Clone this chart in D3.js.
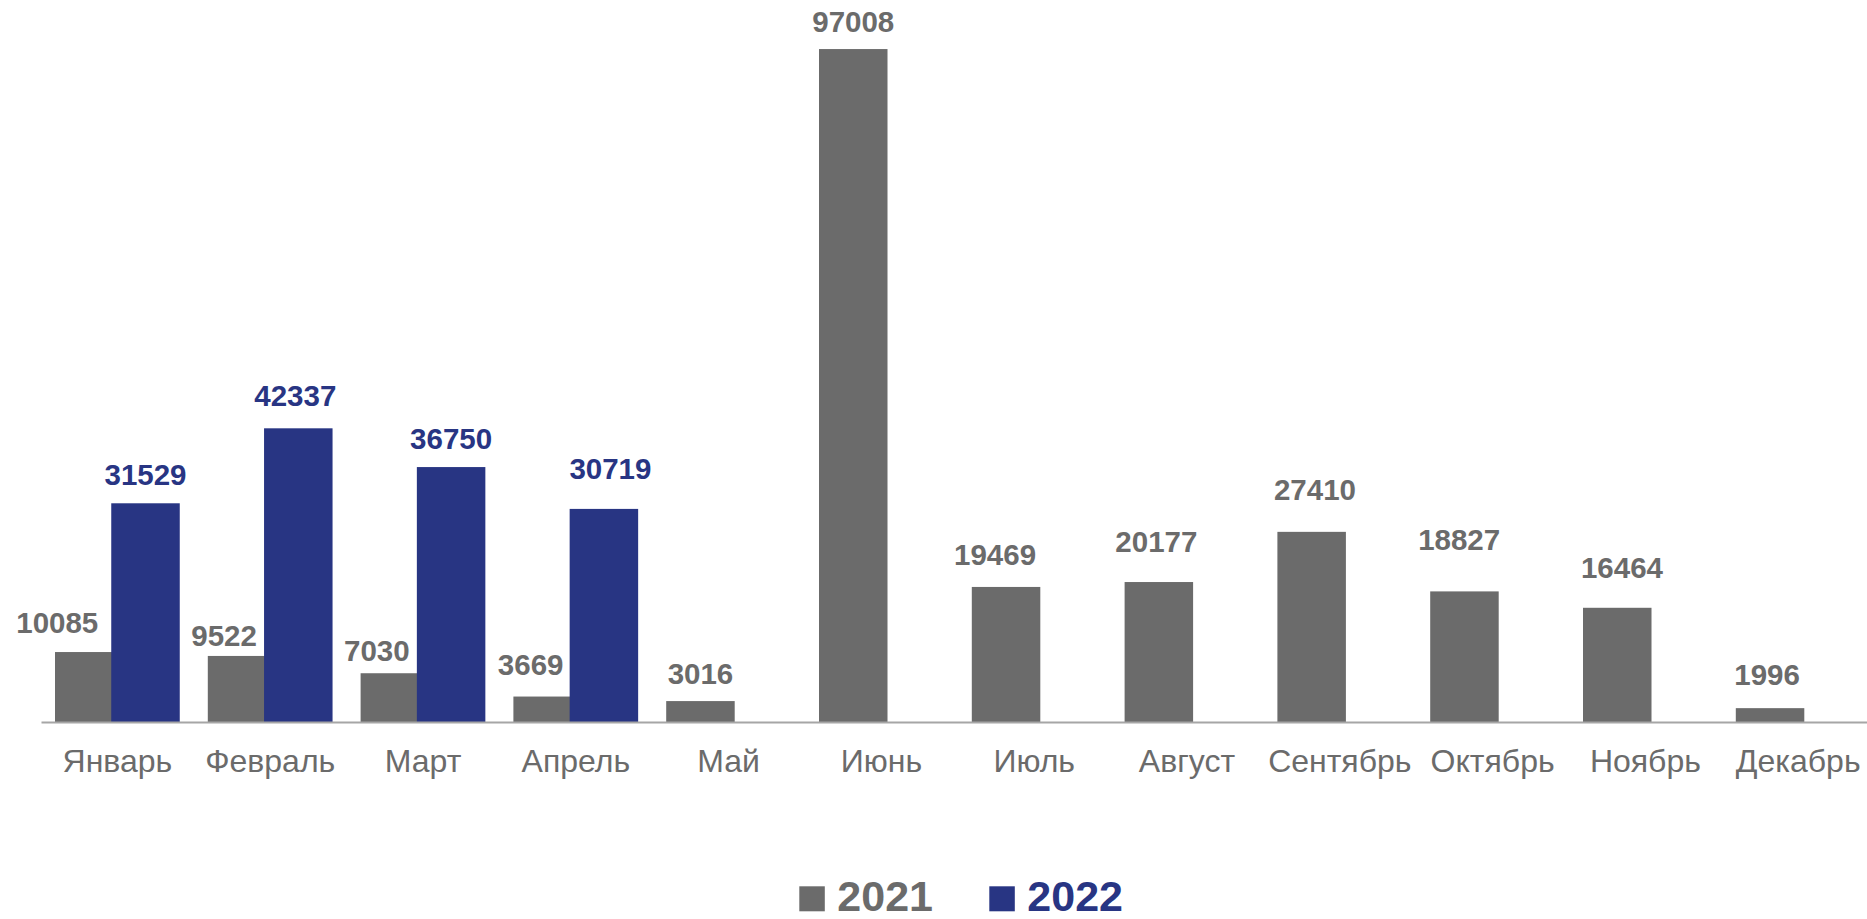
<!DOCTYPE html>
<html>
<head>
<meta charset="utf-8">
<script src="https://cdn.jsdelivr.net/npm/d3@7"></script>
<style>
  html, body { margin: 0; padding: 0; background: #ffffff; }
  svg { display: block; }
</style>
</head>
<body>
<svg id="chart" width="1867" height="919"></svg>
<script>
// ---- data ----
const months = ["Январь","Февраль","Март","Апрель","Май","Июнь","Июль","Август","Сентябрь","Октябрь","Ноябрь","Декабрь"];
const seriesNames = ["2021","2022"];
const values2021 = [10085, 9522, 7030, 3669, 3016, 97008, 19469, 20177, 27410, 18827, 16464, 1996];
const values2022 = [31529, 42337, 36750, 30719, null, null, null, null, null, null, null, null];

// label nudges (as placed in the original chart)
const labelDx2021  = [-32, -18, -18, -17, 0, 0, -11, -2.5, 3.3, -5.3, 4.7, -3];
const labelGap2021 = [19, 9.5, 12, 22, 16.7, 16.7, 22, 29.6, 32, 41.4, 30, 23];
const labelDx2022  = [0, -3, 0, 6.5];
const labelGap2022 = [18, 22.6, 17.7, 29.7];

// ---- style ----
const colors = { "2021": "#6b6b6b", "2022": "#283583" };
const textGray = "#6b6b6b";
const FONT = "'Liberation Sans', Arial, sans-serif";

const svg = d3.select("#chart");

const x = d3.scaleBand().domain(months).range([41, 41 + 152.8 * 12]).paddingInner(0).paddingOuter(0);
const xs = d3.scalePoint().domain(seriesNames).range([48.25, 104.5]);
const y = d3.scaleLinear().domain([0, 100000]).range([722, 28.3]);
const barW = 68.5;

const rows = [];
months.forEach((m, i) => {
  rows.push({ m, s: "2021", v: values2021[i], dx: labelDx2021[i], gap: labelGap2021[i] });
});
months.forEach((m, i) => {
  if (values2022[i] != null)
    rows.push({ m, s: "2022", v: values2022[i], dx: labelDx2022[i], gap: labelGap2022[i] });
});

// bars
svg.append("g").selectAll("rect").data(rows).join("rect")
  .attr("x", d => x(d.m) + xs(d.s) - barW / 2)
  .attr("y", d => y(d.v))
  .attr("width", barW)
  .attr("height", d => y(0) - y(d.v))
  .attr("fill", d => colors[d.s]);

// axis
const axis = svg.append("g")
  .attr("transform", `translate(0,${y(0)})`)
  .call(d3.axisBottom(x).tickSize(0).tickSizeOuter(0).tickPadding(27.3));
axis.select(".domain").attr("stroke", "#a6a6a6").attr("stroke-width", 2);
axis.selectAll("text")
  .attr("font-family", FONT)
  .attr("font-size", 32)
  .attr("fill", textGray);

// value labels
svg.append("g").selectAll("text").data(rows).join("text")
  .attr("x", d => x(d.m) + xs(d.s) + d.dx)
  .attr("y", d => y(d.v) - d.gap)
  .attr("text-anchor", "middle")
  .attr("font-family", FONT)
  .attr("font-weight", "bold")
  .attr("font-size", 29.5)
  .attr("fill", d => d.s === "2021" ? textGray : colors["2022"])
  .text(d => d.v);

// legend
const legendX = [799.3, 989.3];
const lg = svg.append("g").selectAll("g").data(seriesNames).join("g")
  .attr("transform", (d, i) => `translate(${legendX[i]},0)`);
lg.append("rect")
  .attr("x", 0).attr("y", 886.3).attr("width", 25.5).attr("height", 25)
  .attr("fill", d => colors[d]);
lg.append("text")
  .attr("x", 38).attr("y", 911)
  .attr("font-family", FONT)
  .attr("font-weight", "bold")
  .attr("font-size", 43)
  .attr("fill", d => colors[d])
  .text(d => d);
</script>
</body>
</html>
